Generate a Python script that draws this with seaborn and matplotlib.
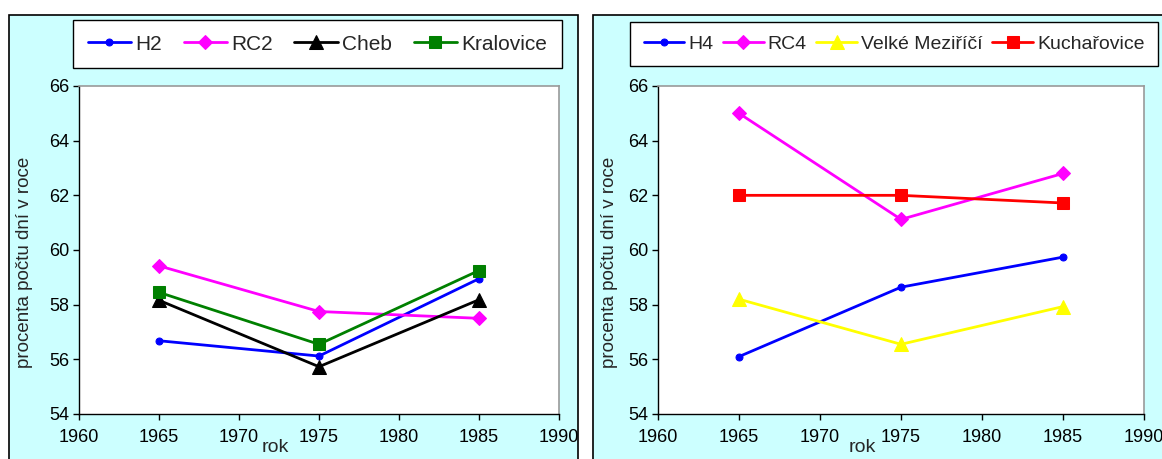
import matplotlib
matplotlib.use("Agg")
import matplotlib.pyplot as plt
from matplotlib.patches import Rectangle
import seaborn as sns
import pandas as pd

# ---- data ----
years = [1965, 1975, 1985]
left_names = ["H2", "RC2", "Cheb", "Kralovice"]
h2 = [56.68, 56.12, 58.95]
rc2 = [59.42, 57.75, 57.50]
cheb = [58.16, 55.73, 58.18]
kralovice = [58.45, 56.55, 59.25]

right_names = ["H4", "RC4", "Velké Meziříčí", "Kuchařovice"]
h4 = [56.10, 58.64, 59.74]
rc4 = [65.00, 61.12, 62.80]
velke = [58.20, 56.55, 57.93]
kuch = [62.00, 62.00, 61.72]

x_ticks = [1960, 1965, 1970, 1975, 1980, 1985, 1990]
y_ticks = [54, 56, 58, 60, 62, 64, 66]
ylabel = "procenta počtu dní v roce"
xlabel = "rok"

sns.set_style("ticks")
plt.rcParams["font.family"] = ["Liberation Sans", "DejaVu Sans"]

W, H = 1162, 459
fig = plt.figure(figsize=(W / 100, H / 100), dpi=100)
fig.patch.set_facecolor("white")

def fx(px):
    return px / W

def fy(py):
    return 1 - py / H

cyan = "#CCFFFF"
# panel frames
fig.add_artist(Rectangle((fx(9), fy(470)), fx(578 - 9), (470 - 15) / H,
                         transform=fig.transFigure, facecolor=cyan,
                         edgecolor="black", linewidth=1.2, zorder=0))
fig.add_artist(Rectangle((fx(593), fy(470)), fx(1175 - 593), (470 - 15) / H,
                         transform=fig.transFigure, facecolor=cyan,
                         edgecolor="black", linewidth=1.2, zorder=0))

def panel(ax_rect, names, series, colors, markers, msizes, leg_rect, rok_x, ylab_x, legfs, colsp):
    ax = fig.add_axes(ax_rect)
    ax.set_facecolor("white")
    for name, vals, c, m, ms in zip(names, series, colors, markers, msizes):
        df = pd.DataFrame({"year": years, "value": vals})
        sns.lineplot(data=df, x="year", y="value", ax=ax, color=c, marker=m,
                     markersize=ms, markeredgecolor=c, markerfacecolor=c,
                     linewidth=2, label=name)
    ax.set_xlim(1960, 1990)
    ax.set_ylim(54, 66)
    ax.set_xticks(x_ticks)
    ax.set_yticks(y_ticks)
    ax.tick_params(axis="both", direction="out", length=4, width=1,
                   labelsize=13, colors="black", pad=3)
    ax.tick_params(axis="x", pad=7)
    for s in ["left", "bottom"]:
        ax.spines[s].set_color("black")
        ax.spines[s].set_linewidth(1)
    for s in ["top", "right"]:
        ax.spines[s].set_color("#999999")
        ax.spines[s].set_linewidth(1.2)
    ax.set_xlabel("")
    ax.set_ylabel("")
    leg = ax.legend(loc="center", ncol=4, mode="expand",
                    bbox_to_anchor=leg_rect, bbox_transform=fig.transFigure,
                    fontsize=legfs, frameon=True, fancybox=False, framealpha=1,
                    edgecolor="black", borderpad=0.7, handlelength=2.1,
                    handletextpad=0.2, columnspacing=colsp, borderaxespad=0)
    leg.get_frame().set_linewidth(1)
    fig.text(fx(rok_x), fy(448), xlabel, ha="center", va="center", fontsize=14)
    fig.text(fx(ylab_x), fy(262), ylabel, ha="center", va="center",
             rotation=90, fontsize=13.5)
    return ax

panel([fx(79), fy(414), fx(559 - 79), (414 - 86) / H],
      left_names, [h2, rc2, cheb, kralovice],
      ["#0000FF", "#FF00FF", "#000000", "#008000"],
      ["o", "D", "^", "s"], [5, 7, 10, 9],
      (fx(73), fy(71), fx(562 - 73), (71 - 17) / H), 275, 25, 15, 1.1)

panel([fx(658), fy(414), fx(1144 - 658), (414 - 86) / H],
      right_names, [h4, rc4, velke, kuch],
      ["#0000FF", "#FF00FF", "#FFFF00", "#FF0000"],
      ["o", "D", "^", "s"], [5, 7, 10, 9],
      (fx(630), fy(70), fx(1158 - 630), (70 - 18) / H), 862, 609, 14, 1.0)

fig.savefig("out.png", dpi=100)
